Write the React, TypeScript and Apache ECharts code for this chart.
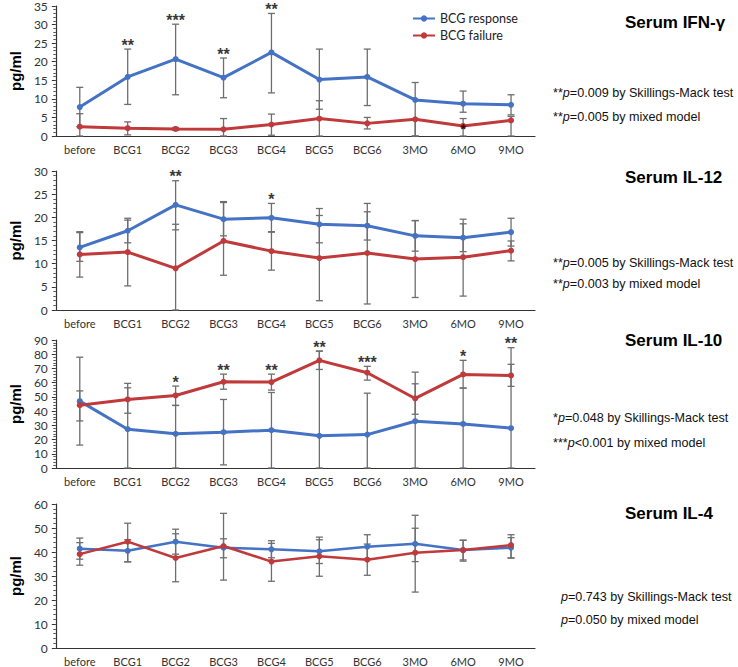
import React, { useEffect, useRef } from "react";
import * as echarts from "echarts";

const categories = ["before", "BCG1", "BCG2", "BCG3", "BCG4", "BCG5", "BCG6", "3MO", "6MO", "9MO"];

// Serum IFN-γ
const ifnResp = [7.8, 15.9, 20.7, 15.7, 22.5, 15.2, 15.9, 9.7, 8.7, 8.4];
const ifnRespHi = [13.1, 23.4, 30.1, 21.0, 33.0, 23.4, 23.4, 14.4, 12.1, 11.1];
const ifnRespLo = [2.5, 8.5, 11.1, 10.3, 11.6, 7.2, 8.2, 0, 6.4, 5.7];
const ifnFail = [2.5, 2.1, 1.9, 1.8, 3.1, 4.7, 3.4, 4.5, 2.7, 4.2];
const ifnFailHi = [6.0, 3.8, 2.3, 4.7, 5.9, 9.5, 5.0, 4.5, 4.7, 5.3];
const ifnFailLo = [0, 0.3, 1.5, 0, 0.2, 0, 1.9, 0, 0, 0];
const ifnStars: [number, string][] = [[1, "**"], [2, "***"], [3, "**"], [4, "**"]];
const ifnPointStars: [number, string][] = [[8, "*"]];

// Serum IL-12
const il12Resp = [13.5, 17.1, 22.7, 19.6, 19.9, 18.5, 18.2, 16.0, 15.6, 16.8];
const il12RespHi = [16.9, 19.8, 27.9, 23.4, 23.0, 21.9, 21.2, 19.3, 18.6, 19.8];
const il12RespLo = [10.5, 14.5, 17.3, 16.0, 16.9, 14.5, 15.1, 12.7, 12.6, 13.8];
const il12Fail = [12.0, 12.5, 9.0, 14.9, 12.7, 11.2, 12.3, 11.0, 11.4, 12.8];
const il12FailHi = [16.7, 19.4, 18.5, 23.2, 16.8, 20.4, 23.0, 19.3, 19.6, 14.9];
const il12FailLo = [7.1, 5.2, 0, 7.5, 8.6, 2.0, 1.3, 2.7, 3.0, 10.6];
const il12Stars: [number, string][] = [[2, "**"], [4, "*"]];

// Serum IL-10
const il10Resp = [47.0, 27.3, 24.0, 25.2, 26.6, 22.6, 23.5, 32.9, 31.0, 28.0];
const il10RespHi = [77.9, 56.4, 44.0, 48.2, 53.1, 82.2, 52.6, 67.4, 56.2, 84.6];
const il10RespLo = [16.1, 0, 0, 2.2, 0, 0, 0, 0, 0, 0];
const il10Fail = [44.2, 48.2, 51.0, 60.6, 60.4, 75.7, 67.0, 48.9, 65.8, 65.1];
const il10FailHi = [54.2, 59.5, 57.6, 66.0, 66.0, 82.2, 71.5, 59.2, 75.7, 72.9];
const il10FailLo = [33.1, 38.5, 44.0, 55.4, 54.8, 69.3, 61.8, 37.8, 56.2, 57.4];
const il10Stars: [number, string][] = [[2, "*"], [3, "**"], [4, "**"], [5, "**"], [6, "***"], [8, "*"], [9, "**"]];

// Serum IL-4
const il4Resp = [41.4, 40.5, 44.3, 41.8, 41.1, 40.3, 42.2, 43.4, 40.8, 41.8];
const il4RespHi = [45.8, 45.1, 49.5, 45.5, 44.7, 45.1, 47.2, 49.9, 44.9, 46.0];
const il4RespLo = [37.0, 35.9, 39.1, 37.6, 37.6, 35.2, 37.2, 36.0, 36.7, 37.5];
const il4Fail = [39.1, 44.3, 37.5, 42.5, 36.0, 38.2, 36.8, 39.7, 40.8, 42.9];
const il4FailHi = [43.9, 52.0, 47.6, 56.1, 43.6, 46.2, 43.3, 55.3, 44.9, 47.2];
const il4FailLo = [34.5, 35.9, 27.6, 28.3, 27.8, 29.9, 30.3, 23.3, 36.2, 37.5];
const il4Stars: [number, string][] = [];

const titles = ["Serum IFN-γ", "Serum IL-12", "Serum IL-10", "Serum IL-4"];
const stat1 = [
  { star: "**", p: "=0.009 by Skillings-Mack test" },
  { star: "**", p: "=0.005 by Skillings-Mack test" },
  { star: "*", p: "=0.048 by Skillings-Mack test" },
  { star: "", p: "=0.743 by Skillings-Mack test" },
];
const stat2 = [
  { star: "**", p: "=0.005 by mixed model" },
  { star: "**", p: "=0.003 by mixed model" },
  { star: "***", p: "<0.001 by mixed model" },
  { star: "", p: "=0.050 by mixed model" },
];
const yMax = [35, 30, 90, 60];
const yInterval = [5, 5, 10, 10];

const panels = [
  { resp: ifnResp, respHi: ifnRespHi, respLo: ifnRespLo, fail: ifnFail, failHi: ifnFailHi, failLo: ifnFailLo, stars: ifnStars },
  { resp: il12Resp, respHi: il12RespHi, respLo: il12RespLo, fail: il12Fail, failHi: il12FailHi, failLo: il12FailLo, stars: il12Stars },
  { resp: il10Resp, respHi: il10RespHi, respLo: il10RespLo, fail: il10Fail, failHi: il10FailHi, failLo: il10FailLo, stars: il10Stars },
  { resp: il4Resp, respHi: il4RespHi, respLo: il4RespLo, fail: il4Fail, failHi: il4FailHi, failLo: il4FailLo, stars: il4Stars },
];

// layout (positions only)
const gridLayout = [
  { top: 4, height: 132 },
  { top: 171, height: 139 },
  { top: 340, height: 128 },
  { top: 504, height: 145 },
];
const titleY = [22, 177, 340, 513];
const stat1Y = [93, 263, 418, 597];
const stat2Y = [117, 284, 443, 620];
const statX = [553, 553, 553, 561];

const BLUE = "#4472C4";
const RED = "#C0393B";
const ERR = "#6e6e6e";
const LABEL_FONT = "Lato, 'Liberation Sans', sans-serif";
const ARIAL = "'Liberation Sans', Arial, sans-serif";

function errorRender(params: any, api: any) {
  const x = api.value(0);
  const lo = api.value(1);
  const hi = api.value(2);
  const pHi = api.coord([x, hi]);
  const pLo = api.coord([x, lo]);
  const hw = 3.5;
  const style = { stroke: ERR, lineWidth: 1.3 };
  return {
    type: "group",
    children: [
      { type: "line", shape: { x1: pHi[0], y1: pHi[1], x2: pLo[0], y2: pLo[1] }, style },
      { type: "line", shape: { x1: pHi[0] - hw, y1: pHi[1], x2: pHi[0] + hw, y2: pHi[1] }, style },
      { type: "line", shape: { x1: pLo[0] - hw, y1: pLo[1], x2: pLo[0] + hw, y2: pLo[1] }, style },
    ],
  };
}

function buildOption() {
  const series: any[] = [];
  panels.forEach((p, i) => {
    const lw = i === 3 ? 2.5 : 3;
    series.push({
      type: "custom",
      xAxisIndex: i,
      yAxisIndex: i,
      renderItem: errorRender,
      encode: { x: 0, y: [1, 2] },
      data: categories.map((_, k) => [k, p.respLo[k], p.respHi[k]]),
      z: 1,
      silent: true,
    });
    series.push({
      type: "custom",
      xAxisIndex: i,
      yAxisIndex: i,
      renderItem: errorRender,
      encode: { x: 0, y: [1, 2] },
      data: categories.map((_, k) => [k, p.failLo[k], p.failHi[k]]),
      z: 1,
      silent: true,
    });
    series.push({
      name: "BCG response",
      type: "line",
      xAxisIndex: i,
      yAxisIndex: i,
      data: p.resp,
      symbol: "circle",
      symbolSize: 6,
      lineStyle: { color: BLUE, width: lw },
      itemStyle: { color: BLUE },
      z: 3,
    });
    series.push({
      name: "BCG failure",
      type: "line",
      xAxisIndex: i,
      yAxisIndex: i,
      data: p.fail,
      symbol: "circle",
      symbolSize: 6,
      lineStyle: { color: RED, width: lw },
      itemStyle: { color: RED },
      z: 3,
    });
    if (p.stars.length) {
      series.push({
        type: "scatter",
        xAxisIndex: i,
        yAxisIndex: i,
        symbolSize: 0,
        silent: true,
        data: p.stars.map(([k]) => [k, Math.max(p.respHi[k], p.failHi[k])]),
        label: {
          show: true,
          position: "top",
          distance: -4,
          formatter: (prm: any) => p.stars[prm.dataIndex][1],
          fontFamily: ARIAL,
          fontSize: 16,
          fontWeight: "bold",
          color: "#000",
        },
        z: 5,
      });
    }
  });
  series.push({
    type: "scatter",
    xAxisIndex: 0,
    yAxisIndex: 0,
    symbolSize: 0,
    silent: true,
    data: ifnPointStars.map(([k]) => [k, ifnFail[k]]),
    label: {
      show: true,
      position: "inside",
      formatter: (prm: any) => ifnPointStars[prm.dataIndex][1],
      fontFamily: ARIAL,
      fontSize: 14,
      fontWeight: "bold",
      color: "#000",
      offset: [0, 3],
    },
    z: 6,
  });

  const graphics: any[] = [];
  titles.forEach((t, i) => {
    graphics.push({
      type: "text",
      x: 625,
      y: titleY[i],
      style: {
        text: t,
        font: `bold 17px ${ARIAL}`,
        fill: "#000",
        verticalAlign: "middle",
      },
    });
    [
      [stat1[i], stat1Y[i]],
      [stat2[i], stat2Y[i]],
    ].forEach(([s, y]: any) => {
      const base = { fontSize: 12.6, fontFamily: ARIAL, fill: "#111" };
      graphics.push({
        type: "text",
        x: statX[i],
        y,
        style: {
          text: (s.star ? `{a|${s.star}}` : "") + `{i|p}{a|${s.p}}`,
          verticalAlign: "middle",
          rich: {
            a: { ...base },
            i: { ...base, fontStyle: "italic" },
          },
        },
      });
    });
  });

  return {
    animation: false,
    backgroundColor: "#fff",
    legend: {
      data: ["BCG response", "BCG failure"],
      orient: "vertical",
      left: 407,
      top: 7,
      itemGap: 4,
      itemWidth: 22,
      itemHeight: 8,
      textStyle: { fontFamily: LABEL_FONT, fontSize: 12.5, color: "#222" },
    },
    grid: gridLayout.map((g) => ({ left: 45, width: 490, top: g.top, height: g.height })),
    xAxis: gridLayout.map((_, i) => ({
      type: "category",
      gridIndex: i,
      data: categories,
      axisTick: { show: false },
      axisLine: { lineStyle: { color: "#333", width: 1.2 } },
      axisLabel: { fontFamily: LABEL_FONT, fontSize: 11, color: "#333", margin: 8 },
    })),
    yAxis: gridLayout.map((_, i) => ({
      type: "value",
      gridIndex: i,
      min: 0,
      max: yMax[i],
      interval: yInterval[i],
      name: "pg/ml",
      nameLocation: "middle",
      nameGap: 31,
      nameTextStyle: { fontFamily: ARIAL, fontWeight: "bold", fontSize: 15, color: "#000" },
      axisLine: { show: true, lineStyle: { color: "#333", width: 1.2 } },
      axisTick: { show: true, length: 4, lineStyle: { color: "#333" } },
      minorTick: { show: true, splitNumber: 5, length: 2.5, lineStyle: { color: "#555" } },
      splitLine: { show: false },
      axisLabel: { fontFamily: LABEL_FONT, fontSize: 12, color: "#333", margin: 8 },
    })),
    graphic: graphics,
    series,
  };
}

export default function App() {
  const ref = useRef<HTMLDivElement>(null);
  useEffect(() => {
    if (!ref.current) return;
    const chart = echarts.init(ref.current, undefined, { renderer: "svg" });
    chart.setOption(buildOption() as any);
    return () => chart.dispose();
  }, []);
  return (
    <div
      ref={ref}
      style={{ position: "absolute", left: 0, top: 0, width: 738, height: 667, background: "#fff" }}
    />
  );
}
